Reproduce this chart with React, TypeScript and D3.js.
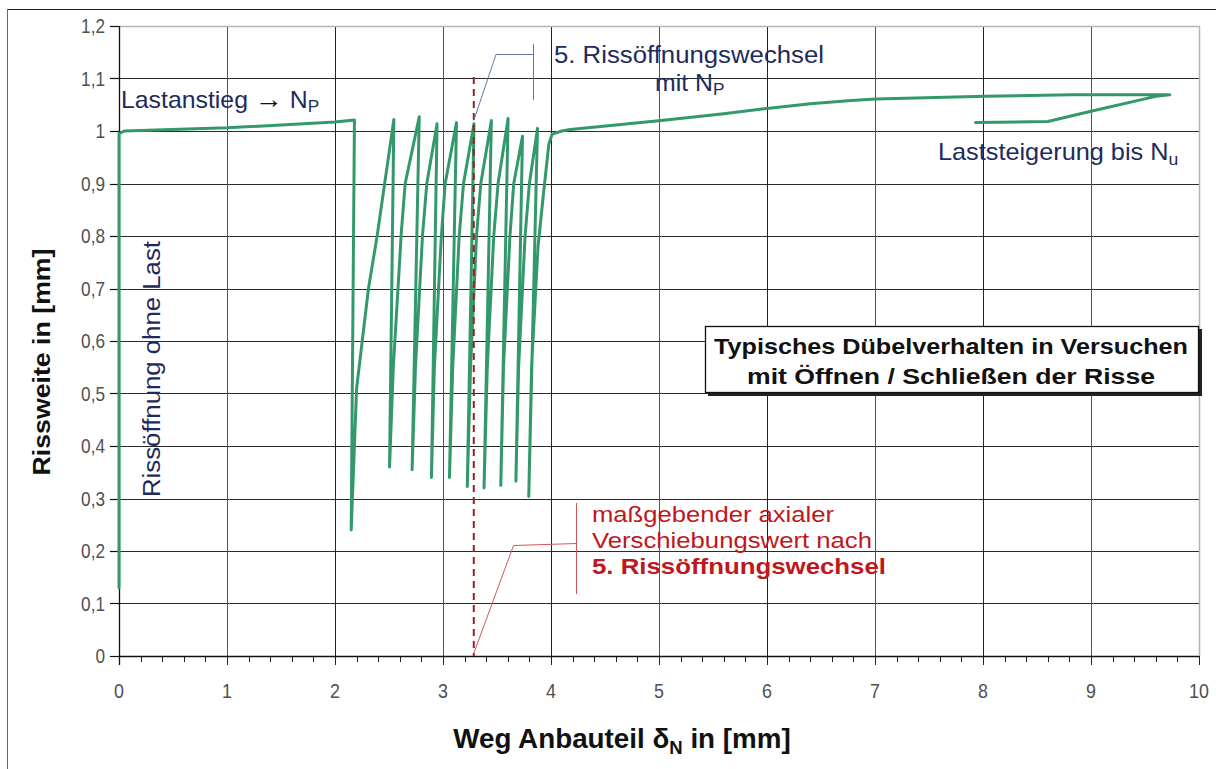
import React, { useEffect, useRef } from "react";
import * as d3 from "d3";

// Achsen
const xTicks = [0, 1, 2, 3, 4, 5, 6, 7, 8, 9, 10];
const yTicks = [0, 0.1, 0.2, 0.3, 0.4, 0.5, 0.6, 0.7, 0.8, 0.9, 1.0, 1.1, 1.2];
const yTickLabels = ["0", "0,1", "0,2", "0,3", "0,4", "0,5", "0,6", "0,7", "0,8", "0,9", "1", "1,1", "1,2"];

// Messkurve (Weg [mm], Rissweite [mm])
const lastanstieg = [
  [0, 0.13], [0, 0.995], [0.05, 1.0], [1.0, 1.006], [2.0, 1.017], [2.18, 1.021],
];
const rissZyklen = [
  [2.15, 0.24], [2.2, 0.51], [2.31, 0.7], [2.39, 0.8], [2.545, 1.022],
  [2.505, 0.36], [2.54, 0.55], [2.615, 0.81], [2.65, 0.9], [2.78, 1.027],
  [2.714, 0.355], [2.745, 0.55], [2.81, 0.8], [2.85, 0.9], [2.945, 1.014],
  [2.893, 0.34], [2.92, 0.55], [2.985, 0.8], [3.02, 0.9], [3.125, 1.016],
  [3.06, 0.34], [3.09, 0.55], [3.15, 0.8], [3.19, 0.9], [3.287, 1.014],
  [3.225, 0.323], [3.255, 0.55], [3.31, 0.8], [3.35, 0.9], [3.448, 1.02],
  [3.38, 0.32], [3.41, 0.55], [3.47, 0.8], [3.51, 0.9], [3.603, 1.024],
  [3.535, 0.325], [3.56, 0.55], [3.62, 0.8], [3.655, 0.9], [3.736, 0.99],
  [3.675, 0.333], [3.7, 0.55], [3.76, 0.8], [3.8, 0.9], [3.875, 1.005],
  [3.794, 0.304], [3.82, 0.55], [3.88, 0.78], [3.93, 0.88], [3.98, 0.975], [4.01, 0.994],
];
const laststeigerung = [
  [4.1, 1.0], [4.18, 1.003], [5.02, 1.02], [5.6, 1.033], [6.0, 1.043], [6.4, 1.052], [6.78, 1.058], [7.01, 1.061],
  [8.02, 1.066], [8.82, 1.069], [9.73, 1.069], [9.6, 1.066], [9.01, 1.038], [8.6, 1.018], [7.93, 1.016],
];
const massgebenderWeg = 3.285;

const W = 1216;
const H = 769;

const Chart = () => {
  const ref = useRef(null);

  useEffect(() => {
    const svg = d3.select(ref.current);
    svg.selectAll("*").remove();

    const x = d3.scaleLinear().domain([0, 10]).range([119, 1199]);
    const y = d3.scaleLinear().domain([0, 1.2]).range([656, 26]);
    const font = "'Liberation Sans', Arial, sans-serif";

    // Rahmen des Bildes
    svg.append("line").attr("x1", 7).attr("x2", W).attr("y1", 9.5).attr("y2", 9.5)
      .attr("stroke", "#222").attr("stroke-width", 1.2);
    svg.append("line").attr("x1", 7.5).attr("x2", 7.5).attr("y1", 9).attr("y2", H)
      .attr("stroke", "#666").attr("stroke-width", 1);

    // Gitter
    svg.append("g")
      .selectAll("line")
      .data(yTicks.slice(1, -1))
      .join("line")
      .attr("x1", x(0)).attr("x2", x(10))
      .attr("y1", (d) => Math.round(y(d)) + 0.5).attr("y2", (d) => Math.round(y(d)) + 0.5)
      .attr("stroke", "#2a2a2a").attr("stroke-width", 1);
    svg.append("g")
      .selectAll("line")
      .data(xTicks.slice(1, -1))
      .join("line")
      .attr("x1", (d) => Math.round(x(d)) + 0.5).attr("x2", (d) => Math.round(x(d)) + 0.5)
      .attr("y1", y(1.2)).attr("y2", y(0))
      .attr("stroke", (d) => (d % 2 ? "#555" : "#222")).attr("stroke-width", 1);

    // Plotrahmen oben / rechts
    svg.append("path")
      .attr("d", `M${x(0)},${y(1.2) + 0.5}H${x(10) + 0.5}V${y(0)}`)
      .attr("fill", "none").attr("stroke", "#b5b5b5").attr("stroke-width", 1.5);

    // x-Achse mit Nebenstrichen
    const minor = d3.range(0, 10.001, 0.2);
    svg.append("g")
      .selectAll("line")
      .data(minor)
      .join("line")
      .attr("x1", (d) => Math.round(x(d)) + 0.5).attr("x2", (d) => Math.round(x(d)) + 0.5)
      .attr("y1", y(0)).attr("y2", (d) => y(0) + (Math.abs(d - Math.round(d)) < 1e-6 ? 9 : 6))
      .attr("stroke", "#222").attr("stroke-width", 1);
    svg.append("line")
      .attr("x1", x(0)).attr("x2", x(10)).attr("y1", y(0) + 0.5).attr("y2", y(0) + 0.5)
      .attr("stroke", "#111").attr("stroke-width", 1.3);

    // y-Achse
    svg.append("line")
      .attr("x1", x(0) + 0.5).attr("x2", x(0) + 0.5).attr("y1", y(1.2)).attr("y2", y(0) + 9)
      .attr("stroke", "#111").attr("stroke-width", 1.3);
    svg.append("g")
      .selectAll("line")
      .data(yTicks)
      .join("line")
      .attr("x1", x(0) - 9).attr("x2", x(0))
      .attr("y1", (d) => Math.round(y(d)) + 0.5).attr("y2", (d) => Math.round(y(d)) + 0.5)
      .attr("stroke", "#111").attr("stroke-width", 1.2);

    // Beschriftung der Achsen
    svg.append("g")
      .selectAll("text")
      .data(yTicks)
      .join("text")
      .attr("transform", (d) => `translate(105,${y(d) + 7}) scale(0.82,1)`)
      .attr("text-anchor", "end")
      .attr("font-family", font).attr("font-size", 21).attr("fill", "#505050")
      .text((d, i) => yTickLabels[i]);
    svg.append("g")
      .selectAll("text")
      .data(xTicks)
      .join("text")
      .attr("transform", (d) => `translate(${x(d)},698) scale(0.85,1)`)
      .attr("text-anchor", "middle")
      .attr("font-family", font).attr("font-size", 21).attr("fill", "#505050")
      .text((d) => d);

    const xt = svg.append("text")
      .attr("transform", "translate(622,748) scale(1.03,1)")
      .attr("text-anchor", "middle")
      .attr("font-family", font).attr("font-size", 27).attr("font-weight", "bold").attr("fill", "#111");
    xt.append("tspan").text("Weg Anbauteil \u03b4");
    xt.append("tspan").attr("font-size", 18).attr("dy", 6).text("N");
    xt.append("tspan").attr("dy", -6).text(" in [mm]");

    svg.append("text")
      .attr("transform", "translate(50,362) rotate(-90)")
      .attr("text-anchor", "middle")
      .attr("font-family", font).attr("font-size", 24).attr("font-weight", "bold").attr("fill", "#111")
      .attr("textLength", 227).attr("lengthAdjust", "spacingAndGlyphs")
      .text("Rissweite in [mm]");

    // Messkurve
    const line = d3.line().x((d) => x(d[0])).y((d) => y(d[1]));
    svg.append("path")
      .attr("d", line([...lastanstieg, ...rissZyklen, ...laststeigerung]))
      .attr("fill", "none").attr("stroke", "#33996a").attr("stroke-width", 3)
      .attr("stroke-linejoin", "round").attr("stroke-linecap", "round");

    // maßgebender Weg
    svg.append("line")
      .attr("x1", x(massgebenderWeg)).attr("x2", x(massgebenderWeg))
      .attr("y1", y(1.103)).attr("y2", y(0))
      .attr("stroke", "#a51c1c").attr("stroke-width", 2).attr("stroke-dasharray", "7,5");

    // Hinweis oben (blau)
    const navy = "#1d2b5c";
    svg.append("path")
      .attr("d", `M${x(massgebenderWeg)},${y(1.02)}L496,54.5H533.5M533.5,44V100`)
      .attr("fill", "none").attr("stroke", "#5b7aa6").attr("stroke-width", 1);
    svg.append("text")
      .attr("x", 554).attr("y", 63)
      .attr("font-family", font).attr("font-size", 23).attr("fill", navy)
      .attr("textLength", 270).attr("lengthAdjust", "spacingAndGlyphs")
      .text("5. Rissöffnungswechsel");
    const mit = svg.append("text")
      .attr("transform", "translate(655,91) scale(1.08,1)")
      .attr("font-family", font).attr("font-size", 23).attr("fill", navy);
    mit.append("tspan").text("mit N");
    mit.append("tspan").attr("font-size", 16).attr("dy", 4).text("P");

    const la = svg.append("text")
      .attr("transform", "translate(121,108) scale(1.08,1)")
      .attr("font-family", font).attr("font-size", 23).attr("fill", navy);
    la.append("tspan").text("Lastanstieg ");
    la.append("tspan").attr("fill", "#111").attr("font-size", 26).text("\u2192");
    la.append("tspan").text(" N");
    la.append("tspan").attr("font-size", 16).attr("dy", 4).text("P");

    svg.append("text")
      .attr("transform", "translate(160,497) rotate(-90)")
      .attr("font-family", font).attr("font-size", 23).attr("fill", navy)
      .attr("textLength", 256).attr("lengthAdjust", "spacingAndGlyphs")
      .text("Rissöffnung ohne Last");

    const ls = svg.append("text")
      .attr("transform", "translate(938,160) scale(1.1,1)")
      .attr("font-family", font).attr("font-size", 23).attr("fill", navy);
    ls.append("tspan").text("Laststeigerung bis N");
    ls.append("tspan").attr("font-size", 16).attr("dy", 5).text("u");

    // Kasten
    svg.append("rect").attr("x", 708).attr("y", 329).attr("width", 494).attr("height", 67).attr("fill", "#222");
    svg.append("rect").attr("x", 705.5).attr("y", 326.5).attr("width", 493).attr("height", 66)
      .attr("fill", "#fff").attr("stroke", "#111").attr("stroke-width", 1.3);
    svg.append("text")
      .attr("x", 951).attr("y", 354).attr("text-anchor", "middle")
      .attr("font-family", font).attr("font-size", 22).attr("font-weight", "bold").attr("fill", "#111")
      .attr("textLength", 474).attr("lengthAdjust", "spacingAndGlyphs")
      .text("Typisches Dübelverhalten in Versuchen");
    svg.append("text")
      .attr("x", 951).attr("y", 384).attr("text-anchor", "middle")
      .attr("font-family", font).attr("font-size", 22).attr("font-weight", "bold").attr("fill", "#111")
      .attr("textLength", 408).attr("lengthAdjust", "spacingAndGlyphs")
      .text("mit Öffnen / Schließen  der Risse");

    // Hinweis unten (rot)
    const red = "#c0161c";
    svg.append("path")
      .attr("d", `M${x(massgebenderWeg)},${y(0.005)}L513.5,545.5L576.5,543.5M576.5,503V594`)
      .attr("fill", "none").attr("stroke", "#d2585a").attr("stroke-width", 1);
    svg.append("text")
      .attr("x", 592).attr("y", 522)
      .attr("font-family", font).attr("font-size", 22).attr("fill", red)
      .attr("textLength", 242).attr("lengthAdjust", "spacingAndGlyphs")
      .text("maßgebender axialer");
    svg.append("text")
      .attr("x", 592).attr("y", 548)
      .attr("font-family", font).attr("font-size", 22).attr("fill", red)
      .attr("textLength", 280).attr("lengthAdjust", "spacingAndGlyphs")
      .text("Verschiebungswert nach");
    svg.append("text")
      .attr("x", 592).attr("y", 574)
      .attr("font-family", font).attr("font-size", 22).attr("font-weight", "bold").attr("fill", red)
      .attr("textLength", 294).attr("lengthAdjust", "spacingAndGlyphs")
      .text("5. Rissöffnungswechsel");
  }, []);

  return (
    <svg
      ref={ref}
      width={W}
      height={H}
      style={{ position: "absolute", left: 0, top: 0, background: "#fff" }}
    ></svg>
  );
};

export default function App() {
  return <Chart />;
}
